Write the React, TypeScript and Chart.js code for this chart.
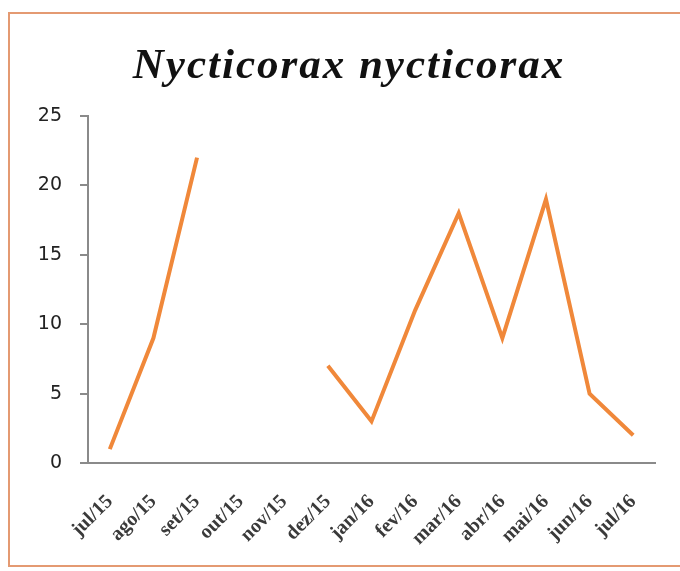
import React, { useEffect, useRef } from "react";
import { Chart, registerables } from "chart.js";

Chart.register(...registerables);

const months = [
  "jul/15", "ago/15", "set/15", "out/15", "nov/15", "dez/15", "jan/16",
  "fev/16", "mar/16", "abr/16", "mai/16", "jun/16", "jul/16",
];
const counts: (number | null)[] = [1, 9, 22, null, null, 7, 3, 11, 18, 9, 19, 5, 2];
const yTicks = [0, 5, 10, 15, 20, 25];
const titleText = "Nycticorax nycticorax";

// Draws the italic species name above the plot.
const speciesTitle = {
  id: "speciesTitle",
  afterDraw(chart: Chart) {
    const ctx = chart.ctx as any;
    ctx.save();
    ctx.font = "italic bold 43px 'Liberation Serif', 'DejaVu Serif', serif";
    ctx.letterSpacing = "2px";
    ctx.fillStyle = "#111";
    ctx.textAlign = "center";
    ctx.textBaseline = "alphabetic";
    ctx.fillText(titleText, 349, 78);
    ctx.restore();
  },
};

export default function App() {
  const canvasRef = useRef<HTMLCanvasElement | null>(null);

  useEffect(() => {
    if (!canvasRef.current) return;
    const chart = new Chart(canvasRef.current, {
      type: "line",
      data: {
        labels: months,
        datasets: [
          {
            data: counts,
            borderColor: "#F0883A",
            borderWidth: 4,
            pointRadius: 0,
            spanGaps: false,
            tension: 0,
          },
        ],
      },
      options: {
        animation: false,
        responsive: false,
        layout: { padding: { top: 116, left: 28, right: 25, bottom: 0 } },
        plugins: {
          legend: { display: false },
          title: { display: false },
          tooltip: { enabled: false },
        },
        scales: {
          x: {
            offset: true,
            grid: { display: false },
            border: { display: true, color: "#8a8a8a", width: 2 },
            ticks: {
              maxRotation: 45,
              minRotation: 45,
              autoSkip: false,
              color: "#3a3a3a",
              padding: 19,
              font: { family: "'Liberation Serif', serif", size: 20, weight: "bold" },
            },
            afterFit(scale: any) {
              scale.height = 108;
            },
          },
          y: {
            min: 0,
            max: 25,
            afterBuildTicks(scale: any) {
              scale.ticks = yTicks.map((v) => ({ value: v }));
            },
            grid: {
              drawOnChartArea: false,
              drawTicks: true,
              tickLength: 8,
              color: "#8a8a8a",
              lineWidth: 2,
            },
            border: { display: true, color: "#8a8a8a", width: 2 },
            ticks: {
              color: "#222",
              padding: 18,
              font: { family: "'DejaVu Sans', sans-serif", size: 19 },
            },
            afterFit(scale: any) {
              scale.width = 60;
            },
          },
        },
      },
      plugins: [speciesTitle],
    });
    return () => chart.destroy();
  }, []);

  return (
    <>
      <div
        style={{
          position: "fixed",
          left: 8,
          top: 12,
          width: 700,
          height: 555,
          border: "2px solid #E49A72",
          boxSizing: "border-box",
          background: "#fff",
        }}
      />
      <canvas
        ref={canvasRef}
        width={680}
        height={571}
        style={{ position: "fixed", left: 0, top: 0, width: 680, height: 571 }}
      />
    </>
  );
}
